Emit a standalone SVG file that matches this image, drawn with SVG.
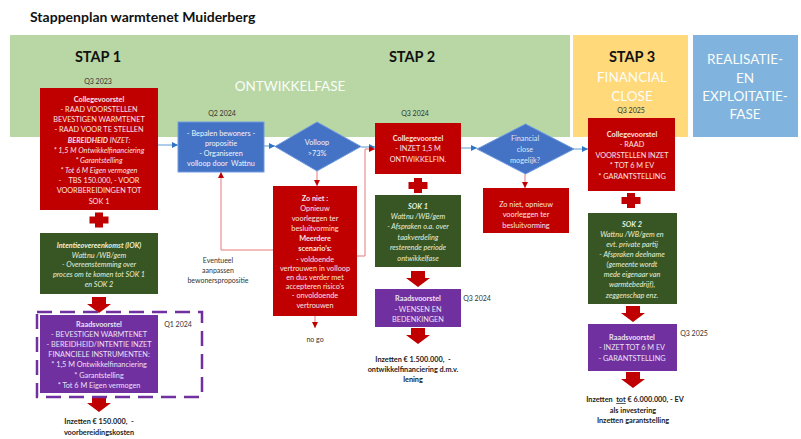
<svg xmlns="http://www.w3.org/2000/svg" width="801" height="439" viewBox="0 0 801 439">
<defs>
<style>
text{font-family:Lato,"Liberation Sans",sans-serif;text-anchor:middle}
.t{font-size:7.3px}
.b{font-weight:bold}
.i{font-style:italic}
.wr{fill:#fbe3e3}
.wg{fill:#e6f0de}
.wp{fill:#ece0f5}
.wb{fill:#f2f5fb}
.dk{fill:#222}
.q{font-size:7px;fill:#333}
.stap{font-size:14.5px;font-weight:bold;fill:#111}
.phase{font-size:13.5px;fill:#fbfdf9}
.red{fill:#c00000}
.grn{fill:#375623}
.pur{fill:#7030a0}
.blu{fill:#4472c4;stroke:#6f9be0;stroke-width:1}
.cb{fill:none;stroke:#5b9bd5;stroke-width:1}
.cr{fill:none;stroke:#e8797b;stroke-width:1}
.blk{fill:#c00000}
</style>
<marker id="ab" viewBox="0 0 6 6" refX="6" refY="3" markerWidth="6" markerHeight="6" markerUnits="userSpaceOnUse" orient="auto"><path d="M0,0 L6,3 L0,6 Z" fill="#2e75c6"/></marker>
<marker id="ar" viewBox="0 0 6 6" refX="6" refY="3" markerWidth="6" markerHeight="6" markerUnits="userSpaceOnUse" orient="auto"><path d="M0,0 L6,3 L0,6 Z" fill="#c00000"/></marker>
</defs>
<rect width="801" height="439" fill="#ffffff"/>
<text x="30" y="22" style="font-size:14px;font-weight:bold;text-anchor:start;fill:#111">Stappenplan warmtenet Muiderberg</text>

<g id="phase-bands">
<rect x="10" y="35" width="560" height="102" fill="#b8d7a4"/>
<rect x="573" y="35" width="115" height="102" fill="#ffd97a"/>
<rect x="693" y="35" width="105" height="102" fill="#80b3dd"/>
<text class="stap" x="98" y="62">STAP 1</text>
<text class="stap" x="412" y="62">STAP 2</text>
<text class="stap" x="632" y="62">STAP 3</text>
<text class="phase" x="290" y="91">ONTWIKKELFASE</text>
<text class="phase" x="632" y="82">FINANCIAL</text>
<text class="phase" x="632" y="101">CLOSE</text>
<text class="phase" x="745" y="64">REALISATIE-</text>
<text class="phase" x="745" y="83">EN</text>
<text class="phase" x="745" y="101">EXPLOITATIE-</text>
<text class="phase" x="745" y="119">FASE</text>
<text class="q" x="98" y="84">Q3 2023</text>
<text class="q" x="222" y="116">Q2 2024</text>
<text class="q" x="415" y="116">Q3 2024</text>
<text class="q" x="631" y="113">Q3 2025</text>
</g>

<g id="connectors">
<path class="cb" d="M158,145 H178" marker-end="url(#ab)"/>
<path class="cb" d="M264,146 H275" marker-end="url(#ab)"/>
<path class="cb" d="M361,147 H375" marker-end="url(#ab)"/>
<path class="cr" d="M317,171 V186" marker-end="url(#ar)"/>
<path class="cr" d="M273,250 H221 V172" marker-end="url(#ar)"/>
<path class="cr" d="M357,256 H365 V149 H375" marker-end="url(#ar)"/>
<path class="cr" d="M315,316 V328" marker-end="url(#ar)"/>
<path class="cb" d="M461,148 H477" marker-end="url(#ab)"/>
<path class="cr" d="M525,174 V188" marker-end="url(#ar)"/>
<path class="cb" d="M574,149 H588" marker-end="url(#ab)"/>
<path class="blk" d="M92,297 H106 V304 H111 L99,313 L87,304 H92 Z"/>
<path class="blk" d="M92,396 H106 V403 H111 L99,412 L87,403 H92 Z"/>
<path class="blk" d="M411,271 H425 V278 H430 L418,287 L406,278 H411 Z"/>
<path class="blk" d="M411,328 H425 V335 H430 L418,344 L406,335 H411 Z"/>
<path class="blk" d="M626,306 H640 V313 H645 L633,322 L621,313 H626 Z"/>
<path class="blk" d="M626,372 H640 V379 H645 L633,388 L621,379 H626 Z"/>
<path class="blk" d="M95,212.5 H103 V216.5 H108.5 V223.5 H103 V227.5 H95 V223.5 H89.5 V216.5 H95 Z"/>
<path class="blk" d="M414,178 H422 V182 H427.5 V189 H422 V193 H414 V189 H408.5 V182 H414 Z"/>
<path class="blk" d="M627,193 H635 V197 H640.5 V204 H635 V208 H627 V204 H621.5 V197 H627 Z"/>
</g>

<g id="college1">
<rect class="red" x="40" y="88" width="118" height="122"/>
<text class="t wr" x="99"><tspan x="99" y="102" class="b">Collegevoorstel</tspan><tspan x="99" y="112">- RAAD VOORSTELLEN</tspan><tspan x="99" y="122">BEVESTIGEN WARMTENET</tspan><tspan x="99" y="132">- RAAD VOOR TE STELLEN</tspan><tspan x="99" y="143" class="i"><tspan class="b">BEREIDHEID</tspan>  INZET:</tspan><tspan x="99" y="153" class="i">* 1,5 M Ontwikkelfinanciering</tspan><tspan x="99" y="163" class="i">* Garantstelling</tspan><tspan x="99" y="173" class="i">* Tot 6 M Eigen vermogen</tspan><tspan x="99" y="183" style="white-space:pre">-    TBS 150.000, - VOOR</tspan><tspan x="99" y="193">VOORBEREIDINGEN TOT</tspan><tspan x="99" y="204">SOK 1</tspan></text>
</g>

<g id="iok">
<rect class="grn" x="40" y="233" width="118" height="61"/>
<text class="t wg i" x="99"><tspan x="99" y="248" class="b">Intentieovereenkomst (IOK)</tspan><tspan x="99" y="258">Wattnu /WB/gem</tspan><tspan x="99" y="267">- Overeenstemming over</tspan><tspan x="99" y="277">proces om te komen tot SOK 1</tspan><tspan x="99" y="287">en SOK 2</tspan></text>
</g>

<g id="raad1">
<rect x="37" y="312" width="165" height="85" fill="none" stroke="#7030a0" stroke-width="2.5" stroke-dasharray="15,8"/>
<rect class="pur" x="40" y="315" width="118" height="78"/>
<text class="t wp" x="99"><tspan x="99" y="327" class="b">Raadsvoorstel</tspan><tspan x="99" y="337">- BEVESTIGEN WARMTENET</tspan><tspan x="99" y="347">- BEREIDHEID/INTENTIE INZET</tspan><tspan x="99" y="357">FINANCIELE INSTRUMENTEN:</tspan><tspan x="99" y="367">* 1,5 M Ontwikkelfinanciering</tspan><tspan x="99" y="378">* Garantstelling</tspan><tspan x="99" y="388">* Tot 6 M Eigen vermogen</tspan></text>
<text class="q" x="178" y="327">Q1 2024</text>
<text class="t b dk" x="99"><tspan x="99" y="424" style="white-space:pre">Inzetten € 150.000,  -</tspan><tspan x="99" y="435">voorbereidingskosten</tspan></text>
</g>

<g id="bewoners">
<rect class="blu" x="178" y="122" width="86" height="50"/>
<text class="t wb" x="221"><tspan x="221" y="136">- Bepalen bewoners -</tspan><tspan x="221" y="146">propositie</tspan><tspan x="221" y="156">- Organiseren</tspan><tspan x="221" y="166" style="white-space:pre">volloop door  Wattnu</tspan></text>
<text class="q" x="218"><tspan x="218" y="263">Eventueel</tspan><tspan x="218" y="273">aanpassen</tspan><tspan x="218" y="283">bewonerspropositie</tspan></text>
</g>

<g id="volloop">
<path class="blu" d="M275,146.5 L317,122 L361,146.5 L317,171 Z"/>
<text class="t wb" x="317"><tspan x="317" y="145">Volloop</tspan><tspan x="317" y="156">&gt;73%</tspan></text>
</g>

<g id="zoniet1">
<rect class="red" x="273" y="186" width="84" height="130"/>
<text class="t wr" x="315"><tspan x="315" y="201" class="b">Zo niet :</tspan><tspan x="315" y="211">Opnieuw</tspan><tspan x="315" y="221">voorleggen ter</tspan><tspan x="315" y="231">besluitvorming</tspan><tspan x="315" y="241" class="b">Meerdere</tspan><tspan x="315" y="251" class="b">scenario’s:</tspan><tspan x="315" y="262">- voldoende</tspan><tspan x="315" y="271">vertrouwen in volloop</tspan><tspan x="315" y="280">en dus verder met</tspan><tspan x="315" y="289">accepteren risico’s</tspan><tspan x="315" y="298">- onvoldoende</tspan><tspan x="315" y="308">vertrouwen</tspan></text>
<text class="q" x="315" y="342">no go</text>
</g>

<g id="college2">
<rect class="red" x="375" y="123" width="86" height="51"/>
<text class="t wr" x="418"><tspan x="418" y="141" class="b">Collegevoorstel</tspan><tspan x="418" y="151">- INZET 1,5 M</tspan><tspan x="418" y="162">ONTWIKKELFIN.</tspan></text>
</g>

<g id="sok1">
<rect class="grn" x="375" y="195" width="86" height="72"/>
<text class="t wg i" x="418"><tspan x="418" y="209" class="b">SOK 1</tspan><tspan x="418" y="219">Wattnu /WB/gem</tspan><tspan x="418" y="229">- Afspraken o.a. over</tspan><tspan x="418" y="240">taakverdeling</tspan><tspan x="418" y="250">resterende periode</tspan><tspan x="418" y="261">ontwikkelfase</tspan></text>
</g>

<g id="raad2">
<rect class="pur" x="375" y="289" width="86" height="38"/>
<text class="t wp" x="418"><tspan x="418" y="301" class="b">Raadsvoorstel</tspan><tspan x="418" y="312">- WENSEN EN</tspan><tspan x="418" y="322">BEDENKINGEN</tspan></text>
<text class="q" x="477" y="301">Q3 2024</text>
<text class="t b dk" x="413"><tspan x="413" y="362" style="white-space:pre">Inzetten € 1.500.000,  -</tspan><tspan x="413" y="372">ontwikkelfinanciering d.m.v.</tspan><tspan x="413" y="382">lening</tspan></text>
</g>

<g id="financial">
<path class="blu" d="M477,149 L525.5,124 L574,149 L525.5,174 Z"/>
<text class="t" x="525" style="fill:#dfe8f7"><tspan x="525" y="141">Financial</tspan><tspan x="525" y="152">close</tspan><tspan x="525" y="163">mogelijk?</tspan></text>
</g>

<g id="zoniet2">
<rect class="red" x="483" y="188" width="86" height="45"/>
<text class="t wr" x="526"><tspan x="526" y="207">Zo niet, opnieuw</tspan><tspan x="526" y="217">voorleggen ter</tspan><tspan x="526" y="228">besluitvorming</tspan></text>
</g>

<g id="college3">
<rect class="red" x="588" y="118" width="87" height="73"/>
<text class="t wr" x="632"><tspan x="632" y="137" class="b">Collegevoorstel</tspan><tspan x="632" y="147">- RAAD</tspan><tspan x="632" y="158">VOORSTELLEN INZET</tspan><tspan x="632" y="168">* TOT 6 M EV</tspan><tspan x="632" y="179">* GARANTSTELLING</tspan></text>
</g>

<g id="sok2">
<rect class="grn" x="588" y="213" width="89" height="91"/>
<text class="t wg i" x="632"><tspan x="632" y="227" class="b">SOK 2</tspan><tspan x="632" y="237">Wattnu /WB/gem en</tspan><tspan x="632" y="247">evt. private partij</tspan><tspan x="632" y="257">- Afspraken deelname</tspan><tspan x="632" y="267">(gemeente wordt</tspan><tspan x="632" y="277">mede eigenaar van</tspan><tspan x="632" y="287">warmtebedrijf),</tspan><tspan x="632" y="298">zeggenschap enz.</tspan></text>
</g>

<g id="raad3">
<rect class="pur" x="588" y="324" width="89" height="47"/>
<text class="t wp" x="632"><tspan x="632" y="340" class="b">Raadsvoorstel</tspan><tspan x="632" y="350">- INZET TOT 6 M EV</tspan><tspan x="632" y="361">- GARANTSTELLING</tspan></text>
<text class="q" x="694" y="336">Q3 2025</text>
<text class="t b dk" x="635"><tspan x="635" y="402" style="white-space:pre">Inzetten  <tspan text-decoration="underline">tot</tspan> € 6.000.000, - EV</tspan><tspan x="633" y="413">als investering</tspan><tspan x="633" y="423">Inzetten garantstelling</tspan></text>
</g>
</svg>
